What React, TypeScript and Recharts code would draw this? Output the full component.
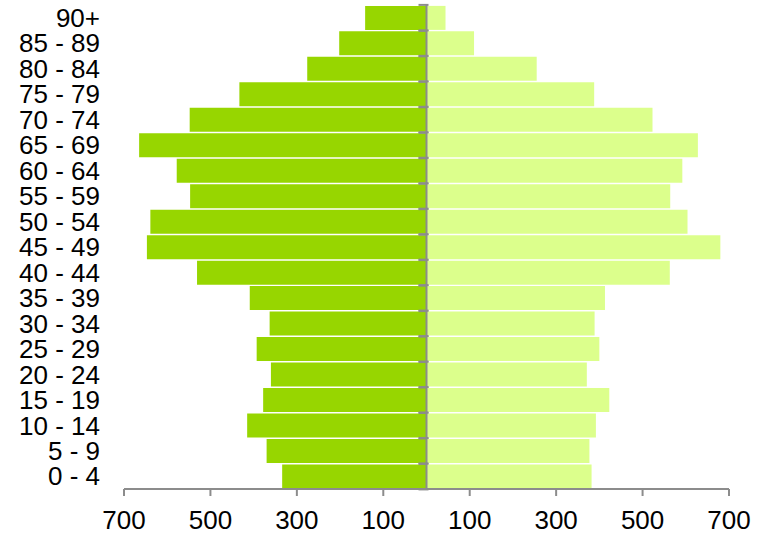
import React from "react";
import { BarChart, Bar, XAxis, YAxis, ReferenceLine, Rectangle } from "recharts";

const ageGroups = [
  "90+", "85 - 89", "80 - 84", "75 - 79", "70 - 74", "65 - 69", "60 - 64",
  "55 - 59", "50 - 54", "45 - 49", "40 - 44", "35 - 39", "30 - 34",
  "25 - 29", "20 - 24", "15 - 19", "10 - 14", "5 - 9", "0 - 4",
];

// left side (drawn as negative values)
const leftValues = [
  142, 202, 276, 433, 548, 665, 578, 547, 639, 647,
  531, 409, 363, 393, 360, 378, 415, 370, 334,
];

// right side
const rightValues = [
  44, 110, 255, 388, 523, 628, 592, 564, 604, 680,
  563, 413, 389, 400, 371, 423, 392, 377, 382,
];

const xTicks = [-700, -500, -300, -100, 100, 300, 500, 700];

const data = ageGroups.map((g, i) => ({
  group: g,
  left: -leftValues[i],
  right: rightValues[i],
}));

const axisGrey = "#8c8c8c";
const font = "'Liberation Sans', Arial, sans-serif";

// right bar plus the little "between" tick marks on the centre axis
function RightBar(props: any) {
  const { x, y, width, height, fill } = props;
  const gap = 1;
  return (
    <g>
      <Rectangle x={x} y={y} width={width} height={height} fill={fill} />
      <line x1={x - 8} x2={x + 2} y1={y - gap} y2={y - gap} stroke={axisGrey} strokeWidth={2} />
      <line x1={x - 8} x2={x + 2} y1={y + height + gap} y2={y + height + gap} stroke={axisGrey} strokeWidth={2} />
    </g>
  );
}

export default function App() {
  return (
    <div style={{ position: "absolute", left: 0, top: 0, background: "#fff" }}>
      <BarChart
        width={759}
        height={536}
        data={data}
        layout="vertical"
        stackOffset="sign"
        barCategoryGap="3.5%"
        margin={{ top: 5, right: 30, bottom: 0, left: 0 }}
      >
        <XAxis
          type="number"
          domain={[-700, 700]}
          ticks={xTicks}
          tickFormatter={(v) => String(Math.abs(v))}
          height={47}
          tickSize={7}
          tickMargin={15}
          axisLine={{ stroke: axisGrey, strokeWidth: 2 }}
          tickLine={{ stroke: axisGrey, strokeWidth: 2 }}
          tick={{ fill: "#000", fontSize: 26, fontFamily: font }}
          allowDataOverflow
        />
        <YAxis
          type="category"
          dataKey="group"
          width={124}
          axisLine={false}
          tickLine={false}
          tickSize={6}
          tickMargin={18}
          interval={0}
          tick={{ fill: "#000", fontSize: 26, fontFamily: font }}
        />
        <Bar dataKey="left" stackId="a" fill="#97d600" isAnimationActive={false} />
        <Bar dataKey="right" stackId="a" fill="#dcff8c" isAnimationActive={false} shape={<RightBar />} />
        <ReferenceLine x={0} stroke={axisGrey} strokeWidth={2} />
      </BarChart>
    </div>
  );
}
